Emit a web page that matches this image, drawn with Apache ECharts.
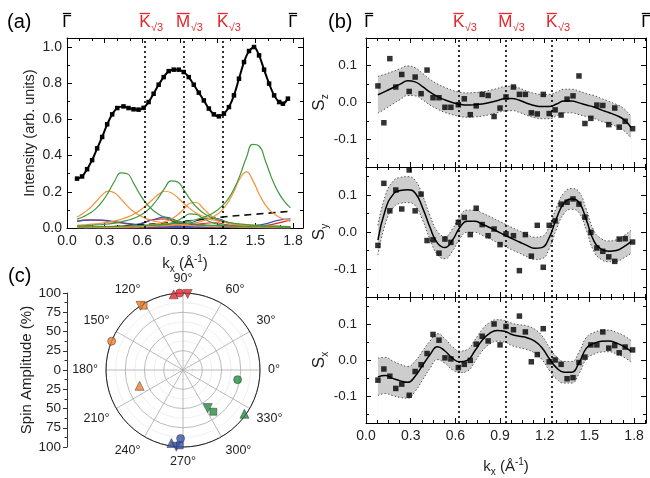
<!DOCTYPE html>
<html><head><meta charset="utf-8">
<script src="https://cdn.jsdelivr.net/npm/echarts@6/dist/echarts.min.js"></script>
<style>html,body{margin:0;padding:0;background:#fff}#c{width:650px;height:478px}</style>
</head><body><div id="c"></div>
<script>
const FONT = '"Liberation Sans", Arial, Helvetica, sans-serif';
const RED = '#e3262b';

// ---------- Panel (a) ----------
const kA = [0.08,0.12,0.16,0.2,0.24,0.28,0.32,0.36,0.4,0.45,0.49,0.53,0.57,0.61,0.65,0.69,0.73,0.77,0.81,0.85,0.89,0.93,0.97,1.01,1.05,1.09,1.13,1.17,1.21,1.25,1.29,1.33,1.37,1.41,1.45,1.49,1.53,1.57,1.61,1.65,1.69,1.72,1.76];
const intensityA = [0.273,0.285,0.325,0.375,0.44,0.503,0.573,0.628,0.663,0.672,0.663,0.656,0.654,0.664,0.696,0.742,0.792,0.834,0.867,0.875,0.875,0.862,0.834,0.792,0.748,0.705,0.66,0.628,0.617,0.632,0.668,0.733,0.825,0.917,0.978,1.0,0.954,0.875,0.798,0.733,0.696,0.687,0.715];

const kComp = [0.08,0.13,0.18,0.23,0.28,0.33,0.38,0.43,0.48,0.53,0.58,0.63,0.68,0.73,0.78,0.83,0.88,0.93,0.98,1.03,1.08,1.13,1.18,1.23,1.28,1.33,1.38,1.43,1.48,1.53,1.58,1.63,1.68,1.73,1.78];
const green1 = [0.049,0.062,0.081,0.107,0.146,0.198,0.26,0.305,0.3,0.248,0.187,0.137,0.101,0.076,0.059,0.047,0.038,0.031,0.026,0.022,0.019,0.016,0.014,0.013,0.011,0.01,0.009,0.008,0.007,0.007,0.006,0.006,0.005,0.005,0.004];
const orange1 = [0.061,0.081,0.109,0.145,0.182,0.204,0.194,0.16,0.122,0.091,0.069,0.052,0.041,0.033,0.027,0.022,0.019,0.016,0.014,0.012,0.01,0.009,0.008,0.007,0.007,0.006,0.005,0.005,0.005,0.004,0.004,0.004,0.003,0.003,0.003];
const green2 = [0.011,0.012,0.014,0.017,0.019,0.023,0.027,0.034,0.042,0.053,0.069,0.091,0.124,0.169,0.222,0.26,0.255,0.211,0.159,0.117,0.086,0.065,0.05,0.04,0.032,0.026,0.022,0.019,0.016,0.014,0.012,0.011,0.01,0.008,0.008];
const orange2 = [0.015,0.017,0.02,0.023,0.027,0.032,0.039,0.048,0.06,0.076,0.097,0.124,0.156,0.186,0.203,0.195,0.169,0.136,0.107,0.083,0.066,0.052,0.042,0.035,0.029,0.025,0.021,0.018,0.016,0.014,0.012,0.011,0.01,0.009,0.008];
const orange3 = [0.003,0.003,0.003,0.004,0.004,0.005,0.006,0.007,0.008,0.01,0.012,0.015,0.019,0.026,0.035,0.049,0.072,0.104,0.137,0.141,0.112,0.078,0.053,0.037,0.027,0.02,0.016,0.013,0.01,0.009,0.007,0.006,0.005,0.005,0.004];
const green4 = [0.001,0.002,0.002,0.002,0.002,0.003,0.003,0.003,0.004,0.005,0.006,0.008,0.01,0.013,0.018,0.027,0.04,0.06,0.078,0.075,0.055,0.037,0.025,0.017,0.012,0.009,0.007,0.006,0.005,0.004,0.003,0.003,0.002,0.002,0.002];
const green3 = [0.006,0.006,0.007,0.007,0.008,0.008,0.009,0.01,0.011,0.012,0.013,0.015,0.016,0.019,0.021,0.024,0.028,0.033,0.039,0.047,0.057,0.071,0.09,0.118,0.157,0.215,0.295,0.391,0.462,0.453,0.372,0.277,0.202,0.148,0.111];
const orange4 = [0.003,0.003,0.003,0.004,0.004,0.004,0.005,0.005,0.006,0.006,0.007,0.008,0.009,0.011,0.012,0.014,0.017,0.02,0.024,0.03,0.039,0.05,0.068,0.095,0.138,0.202,0.277,0.31,0.263,0.188,0.128,0.089,0.064,0.048,0.037];

const kSmall = [0.08,0.18,0.28,0.38,0.48,0.58,0.68,0.78,0.88,0.98,1.08,1.18,1.28,1.38,1.48,1.58,1.68,1.78];
const red1 = [0.038,0.045,0.042,0.032,0.023,0.016,0.011,0.009,0.007,0.005,0.004,0.003,0.003,0.002,0.002,0.002,0.002,0.001];
const red2 = [0.002,0.003,0.004,0.006,0.011,0.022,0.045,0.05,0.026,0.013,0.007,0.004,0.003,0.002,0.002,0.001,0.001,0.001];
const red3 = [0.001,0.001,0.001,0.001,0.001,0.002,0.003,0.004,0.007,0.013,0.025,0.029,0.017,0.009,0.005,0.003,0.002,0.002];
const red4 = [0.0,0.0,0.0,0.0,0.001,0.001,0.001,0.001,0.001,0.002,0.002,0.003,0.004,0.005,0.008,0.014,0.027,0.044];
const blue1 = [0.037,0.044,0.043,0.035,0.026,0.018,0.013,0.01,0.008,0.006,0.005,0.004,0.003,0.003,0.002,0.002,0.002,0.002];
const blue2 = [0.003,0.004,0.005,0.008,0.013,0.023,0.044,0.06,0.039,0.02,0.011,0.007,0.005,0.003,0.003,0.002,0.002,0.001];
const blue3 = [0.001,0.001,0.002,0.002,0.003,0.004,0.006,0.009,0.015,0.027,0.05,0.054,0.031,0.016,0.009,0.006,0.004,0.003];
const blue4 = [0.0,0.0,0.001,0.001,0.001,0.001,0.001,0.001,0.002,0.002,0.003,0.004,0.005,0.008,0.013,0.023,0.042,0.051];
const darkGreen = [0.001,0.002,0.002,0.003,0.005,0.007,0.011,0.018,0.025,0.022,0.014,0.008,0.005,0.004,0.003,0.002,0.002,0.001];

const kBg = [0.08,0.3,0.5,0.8,1.0,1.24,1.5,1.77];
const bgVals = [0.0,0.004,0.013,0.029,0.042,0.061,0.076,0.092];

const symLinesA = [0.62,0.925,1.24];
const symLabelsA = [{k:0,t:'Γ'},{k:0.62,t:'K',s:'√3'},{k:0.925,t:'M',s:'√3'},{k:1.24,t:'K',s:'√3'},{k:1.8,t:'Γ'}];

// ---------- Panel (b) ----------
const kB = [0.08,0.12,0.16,0.2,0.24,0.29,0.33,0.37,0.41,0.45,0.49,0.53,0.57,0.62,0.66,0.7,0.74,0.78,0.82,0.86,0.9,0.94,0.99,1.03,1.07,1.11,1.15,1.19,1.23,1.27,1.31,1.35,1.39,1.43,1.47,1.51,1.55,1.59,1.63,1.67,1.7,1.74,1.79];
const sz = [0.045,-0.055,0.119,0.042,0.076,0.03,0.069,0.024,0.088,0.013,0.013,-0.013,-0.013,-0.006,0.01,-0.033,-0.009,0.022,0.019,-0.038,-0.015,0.015,0.042,0.022,0.022,-0.028,-0.031,0.022,-0.03,-0.02,-0.034,0.009,0.018,0.072,-0.057,-0.043,-0.007,-0.008,-0.06,-0.015,-0.067,-0.051,-0.071];
const sy = [-0.036,0.131,0.057,0.113,0.062,0.167,0.057,0.102,-0.023,-0.021,-0.057,-0.019,-0.028,0.026,0.039,-0.007,0.064,0.02,-0.01,0.008,-0.034,-0.005,-0.01,-0.104,-0.007,-0.065,0.018,-0.095,0.018,0.03,0.075,0.08,0.089,0.075,0.04,-0.001,-0.043,-0.052,-0.067,-0.079,-0.019,-0.018,-0.027];
const sx = [-0.056,-0.025,-0.045,-0.079,-0.067,-0.098,-0.032,-0.013,0.018,0.071,0.055,0.006,0.003,-0.021,-0.012,-0.001,0.044,0.066,0.053,0.1,0.042,0.093,0.084,0.122,0.078,-0.005,0.015,0.087,-0.005,0,-0.012,-0.052,-0.049,-0.007,0.008,0.042,0.042,0.078,0.033,0.04,0.02,0.036,0.028];

const kFit = [0.08,0.13,0.18,0.23,0.28,0.33,0.38,0.43,0.48,0.53,0.58,0.63,0.68,0.73,0.78,0.83,0.88,0.93,0.98,1.03,1.08,1.13,1.18,1.23,1.28,1.33,1.38,1.43,1.48,1.53,1.58,1.63,1.68,1.73,1.78];
const szFit = [0.021,0.03,0.04,0.05,0.059,0.056,0.043,0.028,0.016,0.007,0.0,-0.005,-0.007,-0.006,-0.004,0.0,0.005,0.01,0.011,0.006,-0.002,-0.008,-0.011,-0.011,-0.004,0.004,0.004,-0.001,-0.007,-0.012,-0.02,-0.027,-0.035,-0.046,-0.068];
const szUp = [0.071,0.077,0.084,0.092,0.099,0.094,0.079,0.063,0.05,0.041,0.033,0.028,0.026,0.027,0.029,0.033,0.038,0.043,0.044,0.039,0.031,0.025,0.022,0.022,0.028,0.036,0.036,0.031,0.024,0.019,0.011,0.003,-0.005,-0.016,-0.039];
const szLo = [-0.029,-0.017,-0.004,0.008,0.019,0.018,0.007,-0.007,-0.018,-0.027,-0.033,-0.038,-0.04,-0.039,-0.037,-0.033,-0.028,-0.023,-0.022,-0.027,-0.035,-0.041,-0.044,-0.044,-0.036,-0.028,-0.028,-0.033,-0.038,-0.043,-0.051,-0.057,-0.065,-0.076,-0.097];
const syFit = [-0.022,0.06,0.1,0.112,0.114,0.105,0.065,0.012,-0.03,-0.042,-0.022,0.012,0.029,0.029,0.021,0.012,0.002,-0.008,-0.018,-0.027,-0.036,-0.044,-0.042,-0.015,0.038,0.078,0.089,0.08,0.032,-0.024,-0.046,-0.052,-0.05,-0.04,-0.026];
const syUp = [0.018,0.098,0.136,0.147,0.149,0.139,0.098,0.044,0.001,-0.012,0.008,0.042,0.059,0.059,0.051,0.042,0.032,0.022,0.012,0.003,-0.006,-0.014,-0.012,0.015,0.067,0.106,0.117,0.108,0.06,0.004,-0.018,-0.024,-0.021,-0.01,0.005];
const syLo = [-0.062,0.022,0.064,0.077,0.079,0.071,0.032,-0.02,-0.061,-0.072,-0.052,-0.018,-0.001,-0.001,-0.009,-0.018,-0.028,-0.038,-0.048,-0.057,-0.066,-0.074,-0.072,-0.045,0.009,0.05,0.061,0.052,0.004,-0.052,-0.074,-0.08,-0.079,-0.07,-0.057];
const sxFit = [-0.047,-0.043,-0.051,-0.058,-0.062,-0.045,-0.015,0.015,0.037,0.025,0.005,-0.005,-0.001,0.025,0.055,0.074,0.082,0.08,0.071,0.066,0.062,0.053,0.035,0.004,-0.022,-0.034,-0.034,-0.008,0.033,0.046,0.052,0.053,0.047,0.038,0.024];
const sxUp = [0.005,0.007,-0.003,-0.012,-0.018,-0.003,0.025,0.053,0.073,0.059,0.037,0.025,0.029,0.055,0.085,0.104,0.112,0.11,0.102,0.098,0.095,0.086,0.068,0.036,0.009,-0.004,-0.004,0.022,0.063,0.076,0.082,0.083,0.077,0.068,0.054];
const sxLo = [-0.099,-0.093,-0.099,-0.104,-0.106,-0.087,-0.055,-0.023,0.001,-0.009,-0.027,-0.035,-0.031,-0.005,0.025,0.044,0.052,0.05,0.04,0.034,0.029,0.02,0.002,-0.028,-0.053,-0.064,-0.064,-0.038,0.003,0.016,0.022,0.023,0.017,0.008,-0.006];

const symLinesB = [0.622,0.935,1.247];
const symLabelsB = [{k:0.02,t:'Γ'},{k:0.622,t:'K',s:'√3'},{k:0.935,t:'M',s:'√3'},{k:1.247,t:'K',s:'√3'},{k:1.88,t:'Γ'}];

// ---------- Panel (c) ----------  [radius %, angle deg, marker]
const spinRed = [[99,97,'up'],[100,92.5,'circle'],[99,86.5,'down']];
const spinOrange = [[98,121.5,'square'],[100,123.5,'down'],[100,158,'circle'],[60,200,'up']];
const spinGreen = [[72,350,'circle'],[59,303,'down'],[67,306,'square'],[98,324.5,'up']];
const spinBlue = [[89,268,'circle'],[96,261,'up'],[100,265,'down'],[98,267.5,'square']];

// ---------- helpers ----------
function zip(xs, ys){ return xs.map((x,i)=>[x, ys[i]]); }
function fmtStep(step){ return function(v){ const q=v/step; return Math.abs(q-Math.round(q))<1e-6 ? (Math.abs(v)<1e-9?0:v).toFixed(1) : ''; }; }
const tickStyle = {show:true, inside:true, length:5, lineStyle:{color:'#000', width:1}};
const lineAx = {show:true, onZero:false, lineStyle:{color:'#000', width:1}};
function mkX(grid, pos, opt){
  return Object.assign({gridIndex:grid, type:'value', position:pos, min:0, max:1.88, interval:0.3,
    axisLine:lineAx, axisTick:tickStyle, splitLine:{show:false},
    axisLabel:{show:false}}, opt);
}
function mkY(grid, pos, opt){
  return Object.assign({gridIndex:grid, type:'value', position:pos,
    axisLine:lineAx, axisTick:tickStyle, splitLine:{show:false},
    axisLabel:{show:false}}, opt);
}
const xLabel = {show:true, fontSize:14, color:'#222', margin:6, formatter:fmtStep(0.3), fontFamily:FONT};
const kName = '{k|k}{sub|x}{k| (Å}{sup|-1}{k|)}';
const kNameStyle = {color:'#222', rich:{k:{fontSize:15, lineHeight:20, fontFamily:FONT, color:'#222'}, sub:{fontSize:10, lineHeight:20, verticalAlign:'bottom', fontFamily:FONT, color:'#222'}, sup:{fontSize:10, lineHeight:20, verticalAlign:'top', fontFamily:FONT, color:'#222'}}};

const xAxes = [
  mkX(0,'bottom',{minorTick:{show:true, splitNumber:3, length:3, lineStyle:{color:'#000'}}, axisLabel:xLabel, name:kName, nameLocation:'middle', nameGap:26, nameTextStyle:kNameStyle}),
  mkX(0,'top',{minorTick:{show:true, splitNumber:3, length:3, lineStyle:{color:'#000'}}})
];
const yAxes = [
  mkY(0,'left',{min:0, max:1.05, interval:0.2, minorTick:{show:true, splitNumber:2, length:3, lineStyle:{color:'#000'}},
    axisLabel:{show:true, fontSize:14, color:'#222', margin:5, formatter:fmtStep(0.2), fontFamily:FONT},
    name:'Intensity (arb. units)', nameLocation:'middle', nameGap:30, nameRotate:90, nameTextStyle:{fontSize:14.5, color:'#222', fontFamily:FONT}}),
  mkY(0,'right',{min:0, max:1.05, interval:0.2, minorTick:{show:true, splitNumber:2, length:3, lineStyle:{color:'#000'}}})
];
const sNames = ['z','y','x'];
for (let i=0;i<3;i++){
  const g = i+1;
  const mt = {show:true, splitNumber:4, length:3, lineStyle:{color:'#000'}};
  const bottomOpt = {minorTick:mt, z:5};
  if (i===2){ Object.assign(bottomOpt, {axisLabel:Object.assign({}, xLabel, {fontSize:14, margin:6}), name:kName, nameLocation:'middle', nameGap:34, nameTextStyle:kNameStyle}); }
  xAxes.push(mkX(g,'bottom',bottomOpt));
  xAxes.push(mkX(g,'top',{minorTick:mt, z:5}));
  const ymt = {show:true, splitNumber:2, length:3, lineStyle:{color:'#000'}};
  yAxes.push(mkY(g,'left',{min:-0.175, max:0.175, splitNumber:3, minorTick:ymt, z:5,
    axisLabel:{show:true, fontSize:13.5, color:'#222', margin:9, formatter:fmtStep(0.1), fontFamily:FONT},
    name:'{s|S}{sub|'+sNames[i]+'}', nameLocation:'middle', nameGap:34, nameRotate:90,
    nameTextStyle:{rich:{s:{fontSize:17, lineHeight:22, fontFamily:FONT, color:'#222'}, sub:{fontSize:10, lineHeight:22, verticalAlign:'bottom', fontFamily:FONT, color:'#222'}}}}));
  yAxes.push(mkY(g,'right',{min:-0.175, max:0.175, splitNumber:3, minorTick:ymt, z:5}));
}
// spin amplitude scale (grid 4)
xAxes.push({gridIndex:4, type:'value', show:false, min:0, max:1});
yAxes.push({gridIndex:4, type:'value', position:'left', min:-100, max:100, interval:25,
  axisLine:{show:true, lineStyle:{color:'#333', width:1}},
  axisTick:{show:true, inside:false, length:4, lineStyle:{color:'#333'}},
  minorTick:{show:true, splitNumber:2, length:2.5, lineStyle:{color:'#333'}},
  splitLine:{show:false},
  axisLabel:{show:true, fontSize:13.5, color:'#222', margin:6, fontFamily:FONT, formatter:v=>String(Math.abs(v))},
  name:'Spin Amplitude (%)', nameLocation:'middle', nameGap:30, nameRotate:90, nameTextStyle:{fontSize:15, color:'#222', fontFamily:FONT}});

// ---------- series ----------
const series = [];
function comp(xs, ys, color, w){
  series.push({type:'line', xAxisIndex:0, yAxisIndex:0, data:zip(xs,ys), smooth:true, symbol:'none', silent:true,
    lineStyle:{color:color, width:w||1.2}, z:2});
}
const CG='#3f9a3f', CO='#f7913a', CR='#e02828', CB='#3b56b3', CDG='#1f6a30';
comp(kSmall, darkGreen, CDG);
comp(kSmall, red1, CR); comp(kSmall, red2, CR); comp(kSmall, red3, CR); comp(kSmall, red4, CR);
comp(kSmall, blue1, CB); comp(kSmall, blue2, CB); comp(kSmall, blue3, CB); comp(kSmall, blue4, CB);
series.push({type:'line', xAxisIndex:0, yAxisIndex:0, data:zip(kBg,bgVals), smooth:true, symbol:'none', silent:true,
  lineStyle:{color:'#111', width:1.6, type:[7,5]}, z:2});
comp(kComp, green4, CG);
comp(kComp, orange1, CO); comp(kComp, orange2, CO); comp(kComp, orange3, CO); comp(kComp, orange4, CO);
comp(kComp, green1, CG); comp(kComp, green2, CG); comp(kComp, green3, CG);
const dotted = {type:[2,3], color:'#000', width:1.6};
series.push({type:'line', xAxisIndex:0, yAxisIndex:0, data:zip(kA,intensityA), smooth:0.3,
  symbol:'rect', symbolSize:4.5, itemStyle:{color:'#000'}, lineStyle:{color:'#000', width:2}, z:3,
  markLine:{silent:true, symbol:'none', label:{show:false}, lineStyle:dotted, data:symLinesA.map(v=>({xAxis:v}))}});

const bands = [[szFit,szUp,szLo,sz],[syFit,syUp,syLo,sy],[sxFit,sxUp,sxLo,sx]];
bands.forEach((b,i)=>{
  const xi = 2+2*i, yi = 2+2*i;
  series.push({type:'line', xAxisIndex:xi, yAxisIndex:yi, data:zip(kFit,b[1]), smooth:true, symbol:'none', silent:true,
    lineStyle:{color:'#555', width:1, type:[1.5,2]}, areaStyle:{color:'#cdcdcd', opacity:1, origin:'start'}, z:1});
  series.push({type:'line', xAxisIndex:xi, yAxisIndex:yi, data:zip(kFit,b[2]), smooth:true, symbol:'none', silent:true,
    lineStyle:{color:'#555', width:1, type:[1.5,2]}, areaStyle:{color:'#ffffff', opacity:1, origin:'start'}, z:1});
  series.push({type:'line', xAxisIndex:xi, yAxisIndex:yi, data:zip(kFit,b[0]), smooth:true, symbol:'none', silent:true,
    lineStyle:{color:'#000', width:1.5}, z:2,
    markLine:{silent:true, symbol:'none', label:{show:false}, lineStyle:dotted, data:symLinesB.map(v=>({xAxis:v}))}});
  series.push({type:'scatter', xAxisIndex:xi, yAxisIndex:yi, data:zip(kB,b[3]), symbol:'rect', symbolSize:5.5,
    itemStyle:{color:'#000'}, z:3, silent:true});
});
series.push({type:'scatter', xAxisIndex:8, yAxisIndex:8, data:[], silent:true});

function spinSeries(arr, color){
  return {type:'scatter', coordinateSystem:'polar', silent:true, z:4,
    data: arr.map(p=>{
      const s = p[2];
      return {value:[p[0],p[1]],
        symbol: s==='circle'?'circle':(s==='square'?'rect':'triangle'),
        symbolRotate: s==='down'?180:0,
        symbolSize: s==='circle'?8:(s==='square'?7:9)};
    }),
    itemStyle:{color:color, borderColor:'#333', borderWidth:0.6}};
}
series.push(spinSeries(spinOrange,'#f07f2a'));
series.push(spinSeries(spinGreen,'#1f8f3d'));
series.push(spinSeries(spinBlue,'#3453a8'));
series.push(spinSeries(spinRed,'#e8252a'));

const option = {
  animation:false, backgroundColor:'#fff', textStyle:{fontFamily:FONT},
  grid:[
    {left:67, top:38, width:236, height:190},
    {left:366, top:38, width:280, height:129},
    {left:366, top:167, width:280, height:130},
    {left:366, top:297, width:280, height:130},
    {left:67, top:293, width:1, height:154, show:false}
  ],
  xAxis:xAxes, yAxis:yAxes,
  polar:{center:[183,370], radius:77},
  angleAxis:{type:'value', min:0, max:360, interval:30, startAngle:0, clockwise:false,
    axisLine:{show:true, lineStyle:{color:'#222', width:1}}, axisTick:{show:false},
    axisLabel:{show:true, fontSize:12.5, color:'#222', margin:8, fontFamily:FONT, formatter:v=>(v>=360?'':v+'°')},
    splitLine:{show:true, lineStyle:{color:'#aaa', width:0.8}},
    minorTick:{show:false}, minorSplitLine:{show:false}},
  radiusAxis:{type:'value', min:0, max:100, interval:25,
    axisLine:{show:false}, axisTick:{show:false}, axisLabel:{show:false},
    splitLine:{show:true, lineStyle:{color:'#aaa', width:0.8}},
    minorTick:{show:false, splitNumber:2}, minorSplitLine:{show:true, lineStyle:{color:'#e4e4e4', width:0.6}}},
  series:series
};

const chart = echarts.init(document.getElementById('c'), null, {renderer:'canvas'});
chart.setOption(option);

// ---------- text annotations ----------
const mctx = document.createElement('canvas').getContext('2d');
function tw(t, size){ mctx.font = size+'px '+FONT; return mctx.measureText(t).width; }
function txt(text, x, y, size, color, align){
  return {type:'text', silent:true, z:10, style:{text:text, x:x, y:y, font:size+'px '+FONT, fill:color,
    textAlign:align||'center', align:align||'center', textVerticalAlign:'middle', verticalAlign:'middle'}};
}
function symGraphics(labels, axisIndex){
  const out = [];
  labels.forEach(L=>{
    const px = chart.convertToPixel({xAxisIndex:axisIndex}, L.k);
    const col = L.s ? RED : '#000';
    const w = tw(L.t, 17);
    out.push(txt(L.t, px, 22.5, 17, col, 'center'));
    out.push({type:'line', silent:true, z:10, shape:{x1:px-w/2+0.5, y1:13.5, x2:px+w/2-0.5, y2:13.5}, style:{stroke:col, lineWidth:1.3}});
    if (L.s) out.push(txt(L.s, px+w/2+0.5, 27.5, 11, col, 'left'));
  });
  return out;
}
const els = [].concat(
  symGraphics(symLabelsA, 0),
  symGraphics(symLabelsB, 2),
  [txt('(a)', 7, 22, 20, '#000', 'left'), txt('(b)', 328, 22, 20, '#000', 'left'), txt('(c)', 8, 276, 20, '#000', 'left')]
);
chart.setOption({graphic:{elements:els}});
</script></body></html>
